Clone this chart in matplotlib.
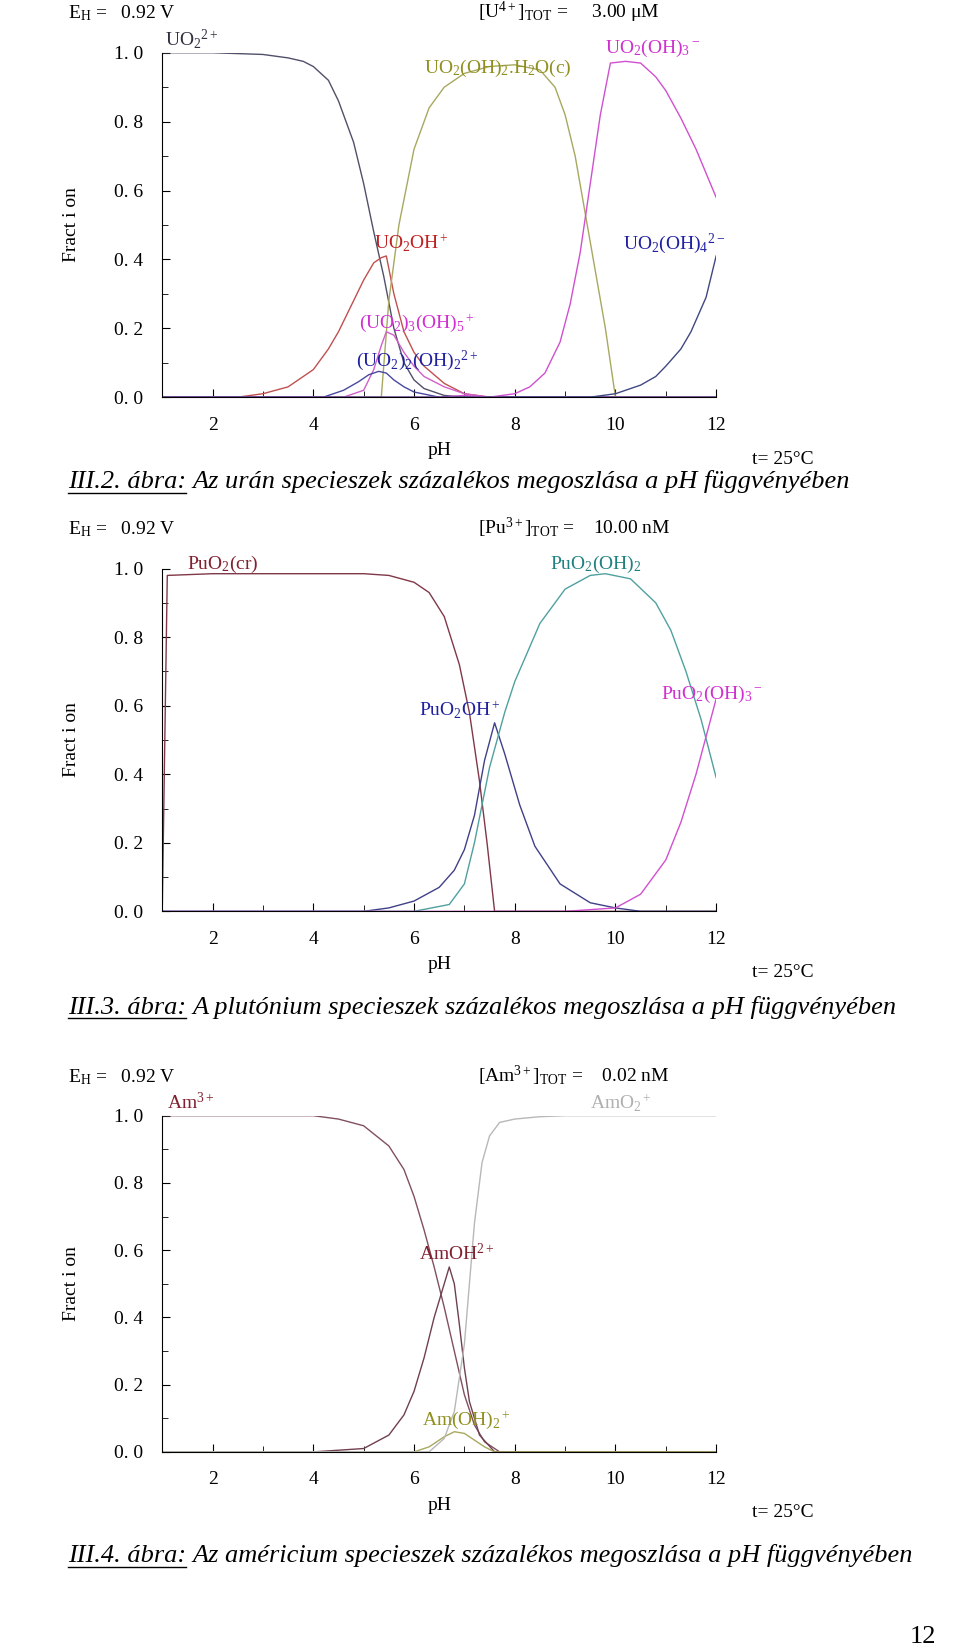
import matplotlib
matplotlib.use("Agg")
import matplotlib.pyplot as plt
from matplotlib.ticker import MultipleLocator

plt.rcParams.update({"font.family": "Liberation Serif", "mathtext.fontset": "custom",
                     "mathtext.rm": "Liberation Serif", "mathtext.it": "Liberation Serif:italic"})

# ---- Panel 1: uranium
u_x1 = [1, 2, 3, 3.5, 3.8, 4, 4.3, 4.5, 4.8, 5, 5.2, 5.4, 5.6, 5.8, 6, 6.2, 6.6, 7, 12]
u_uo2 = [1.0, 1.0, 0.995, 0.985, 0.975, 0.96, 0.92, 0.86, 0.74, 0.62, 0.48, 0.35, 0.2, 0.1, 0.05, 0.025, 0.005, 0, 0]
u_x2 = [1, 2.5, 3, 3.5, 4, 4.3, 4.5, 4.8, 5, 5.2, 5.35, 5.45, 5.6, 5.8, 6, 6.2, 6.6, 7, 7.5, 12]
u_uo2oh = [0, 0, 0.01, 0.03, 0.08, 0.14, 0.19, 0.28, 0.34, 0.39, 0.405, 0.41, 0.3, 0.19, 0.13, 0.09, 0.04, 0.01, 0, 0]
u_x3 = [1, 5.35, 5.5, 5.7, 6, 6.3, 6.6, 7, 7.5, 8, 8.5, 8.8, 9, 9.2, 9.5, 9.8, 10, 12]
u_solid = [0, 0, 0.28, 0.5, 0.72, 0.84, 0.9, 0.94, 0.96, 0.965, 0.95, 0.9, 0.82, 0.7, 0.45, 0.2, 0, 0]
u_x4 = [1, 4.6, 5.0, 5.2, 5.35, 5.45, 5.6, 5.8, 6.0, 6.2, 6.6, 7, 7.5, 12]
u_tri = [0, 0, 0.02, 0.08, 0.15, 0.19, 0.18, 0.13, 0.09, 0.06, 0.03, 0.01, 0, 0]
u_x5 = [1, 4.2, 4.6, 4.9, 5.1, 5.3, 5.45, 5.6, 5.8, 6, 6.5, 12]
u_di = [0, 0, 0.02, 0.045, 0.065, 0.075, 0.07, 0.05, 0.03, 0.015, 0, 0]
u_x6 = [1, 6.5, 7, 7.5, 8, 8.3, 8.6, 8.9, 9.1, 9.3, 9.5, 9.7, 9.9, 10.2, 10.5, 10.8, 11, 11.3, 11.6, 12]
u_oh3 = [0, 0, 0.005, 0.0, 0.01, 0.03, 0.07, 0.16, 0.27, 0.42, 0.62, 0.82, 0.97, 0.975, 0.97, 0.93, 0.89, 0.81, 0.72, 0.58]
u_x7 = [1, 9.5, 10, 10.5, 10.8, 11, 11.3, 11.5, 11.8, 12]
u_oh4 = [0, 0, 0.01, 0.035, 0.06, 0.09, 0.14, 0.19, 0.29, 0.41]

# ---- Panel 2: plutonium
p_x1 = [1, 1.1, 2, 5, 5.5, 6, 6.3, 6.6, 6.9, 7.1, 7.3, 7.45, 7.6, 12]
p_cr = [0, 0.98, 0.985, 0.985, 0.98, 0.96, 0.93, 0.86, 0.72, 0.58, 0.38, 0.2, 0, 0]
p_x2 = [1, 5, 5.5, 6, 6.5, 6.8, 7, 7.2, 7.4, 7.6, 7.8, 8.1, 8.4, 8.9, 9.5, 10, 10.5, 12]
p_oh = [0, 0, 0.01, 0.03, 0.07, 0.12, 0.18, 0.28, 0.44, 0.55, 0.46, 0.31, 0.19, 0.08, 0.025, 0.01, 0, 0]
p_x3 = [1, 6, 6.7, 7.0, 7.2, 7.5, 7.8, 8, 8.5, 9, 9.5, 9.8, 10.3, 10.8, 11.1, 11.4, 11.7, 12]
p_oh2 = [0, 0, 0.02, 0.08, 0.2, 0.42, 0.58, 0.67, 0.84, 0.94, 0.98, 0.985, 0.97, 0.9, 0.82, 0.7, 0.56, 0.39]
p_x4 = [1, 9, 10, 10.5, 11, 11.3, 11.6, 12]
p_oh3 = [0, 0, 0.01, 0.05, 0.15, 0.26, 0.4, 0.62]

# ---- Panel 3: americium
a_x1 = [1, 4, 4.5, 5, 5.5, 5.8, 6, 6.2, 6.4, 6.6, 6.8, 7, 7.2, 7.4, 7.7, 12]
a_am = [1.0, 1.0, 0.99, 0.97, 0.91, 0.84, 0.76, 0.66, 0.55, 0.43, 0.3, 0.17, 0.08, 0.03, 0, 0]
a_x2 = [1, 4, 5, 5.5, 5.8, 6, 6.2, 6.4, 6.6, 6.7, 6.8, 6.9, 7.0, 7.1, 7.3, 7.6, 12]
a_amoh = [0, 0, 0.01, 0.05, 0.11, 0.18, 0.28, 0.4, 0.5, 0.55, 0.5, 0.38, 0.25, 0.15, 0.05, 0, 0]
a_x3 = [1, 6, 6.3, 6.6, 6.8, 7.0, 7.2, 7.4, 7.6, 12]
a_amoh2 = [0, 0, 0.015, 0.045, 0.06, 0.055, 0.035, 0.015, 0, 0]
a_x4 = [1, 6.3, 6.6, 6.8, 7.0, 7.1, 7.2, 7.35, 7.5, 7.7, 8, 8.5, 9, 12]
a_amo2 = [0, 0, 0.04, 0.12, 0.32, 0.5, 0.68, 0.86, 0.94, 0.98, 0.99, 0.997, 1.0, 1.0]

x_ticks = [2, 4, 6, 8, 10, 12]
y_ticks = [0, 0.2, 0.4, 0.6, 0.8, 1.0]
y_labels = ["0. 0", "0. 2", "0. 4", "0. 6", "0. 8", "1. 0"]

fig = plt.figure(figsize=(9.6, 16.48), dpi=100)

def make_ax(bottom, height):
    ax = fig.add_axes([0.169, bottom, 0.577, height])
    ax.set_xlim(1, 12); ax.set_ylim(0, 1)
    for s in ("top", "right"):
        ax.spines[s].set_visible(False)
    ax.set_xticks(x_ticks); ax.set_yticks(y_ticks); ax.set_yticklabels(y_labels)
    ax.xaxis.set_minor_locator(MultipleLocator(1)); ax.yaxis.set_minor_locator(MultipleLocator(0.1))
    ax.tick_params(direction="in", labelsize=14, length=6, pad=14)
    ax.tick_params(which="minor", direction="in", length=4)
    ax.set_xlabel("pH", fontsize=14, labelpad=6)
    ax.set_ylabel("Fract i on", fontsize=14, labelpad=24)
    ax.text(1.12, -0.155, "t= 25°C", transform=ax.transAxes, fontsize=14, ha="center", va="top")
    return ax

def header(ax, left, right):
    ax.text(-0.17, 1.1, left, transform=ax.transAxes, fontsize=14)
    ax.text(0.57, 1.1, right, transform=ax.transAxes, fontsize=14)

def caption(y, num, rest):
    t = fig.text(0.071, y, num, fontsize=19, style="italic")
    fig.canvas.draw()
    bb = t.get_window_extent()
    fig.add_artist(plt.Line2D([bb.x0 / 960, bb.x1 / 960], [y - 0.003, y - 0.003], color="black", lw=1))
    fig.text(bb.x1 / 960 + 0.006, y, rest, fontsize=19, style="italic")

lw = 1.0
fs = 14
ax1 = make_ax(0.759, 0.209)
header(ax1, r"E$_{\rm H}$ =   0.92 V", r"[U$^{4+}$]$_{\rm TOT}$ =     3.00 μM")
ax1.plot(u_x1, u_uo2, color="#50506a", lw=lw)
ax1.plot(u_x2, u_uo2oh, color="#c05050", lw=lw)
ax1.plot(u_x3, u_solid, color="#a8a860", lw=lw)
ax1.plot(u_x4, u_tri, color="#d060c8", lw=lw)
ax1.plot(u_x5, u_di, color="#4848a0", lw=lw)
ax1.plot(u_x6, u_oh3, color="#d050d0", lw=lw)
ax1.plot(u_x7, u_oh4, color="#404880", lw=lw)
ax1.text(1.05, 1.02, r"UO$_2$$^{2+}$", color="#303040", fontsize=fs)
ax1.text(9.8, 1.0, r"UO$_2$(OH)$_3$$^-$", color="#d030d0", fontsize=fs)
ax1.text(6.2, 0.94, r"UO$_2$(OH)$_2$.H$_2$O(c)", color="#909020", fontsize=fs)
ax1.text(5.2, 0.43, r"UO$_2$OH$^+$", color="#c02020", fontsize=fs)
ax1.text(10.15, 0.43, r"UO$_2$(OH)$_4$$^{2-}$", color="#2020a0", fontsize=fs)
ax1.text(4.9, 0.2, r"(UO$_2$)$_3$(OH)$_5$$^+$", color="#d030d0", fontsize=fs)
ax1.text(4.85, 0.09, r"(UO$_2$)$_2$(OH)$_2$$^{2+}$", color="#2020a0", fontsize=fs)
caption(0.704, "III.2. ábra:", "Az urán specieszek százalékos megoszlása a pH függvényében")

ax2 = make_ax(0.447, 0.208)
header(ax2, r"E$_{\rm H}$ =   0.92 V", r"[Pu$^{3+}$]$_{\rm TOT}$ =    10.00 nM")
ax2.plot(p_x1, p_cr, color="#803848", lw=lw)
ax2.plot(p_x2, p_oh, color="#404088", lw=lw)
ax2.plot(p_x3, p_oh2, color="#50a0a0", lw=lw)
ax2.plot(p_x4, p_oh3, color="#d050d0", lw=lw)
ax2.text(1.5, 1.0, r"PuO$_2$(cr)", color="#802030", fontsize=fs)
ax2.text(8.7, 1.0, r"PuO$_2$(OH)$_2$", color="#208080", fontsize=fs)
ax2.text(6.1, 0.57, r"PuO$_2$OH$^+$", color="#2020a0", fontsize=fs)
ax2.text(10.9, 0.62, r"PuO$_2$(OH)$_3$$^-$", color="#d030d0", fontsize=fs)
caption(0.385, "III.3. ábra:", "A plutónium specieszek százalékos megoszlása a pH függvényében")

ax3 = make_ax(0.119, 0.204)
header(ax3, r"E$_{\rm H}$ =   0.92 V", r"[Am$^{3+}$]$_{\rm TOT}$ =    0.02 nM")
ax3.plot(a_x1, a_am, color="#805060", lw=lw)
ax3.plot(a_x2, a_amoh, color="#704050", lw=lw)
ax3.plot(a_x3, a_amoh2, color="#a8a860", lw=lw)
ax3.plot(a_x4, a_amo2, color="#b8b8b8", lw=lw)
ax3.text(1.1, 1.02, r"Am$^{3+}$", color="#802030", fontsize=fs)
ax3.text(9.5, 1.02, r"AmO$_2$$^+$", color="#b0b0b0", fontsize=fs)
ax3.text(6.1, 0.57, r"AmOH$^{2+}$", color="#802030", fontsize=fs)
ax3.text(6.15, 0.08, r"Am(OH)$_2$$^+$", color="#909020", fontsize=fs)
caption(0.052, "III.4. ábra:", "Az américium specieszek százalékos megoszlása a pH függvényében")

fig.text(0.975, 0.003, "12", fontsize=19, ha="right")
fig.savefig("out.png", dpi=100)
